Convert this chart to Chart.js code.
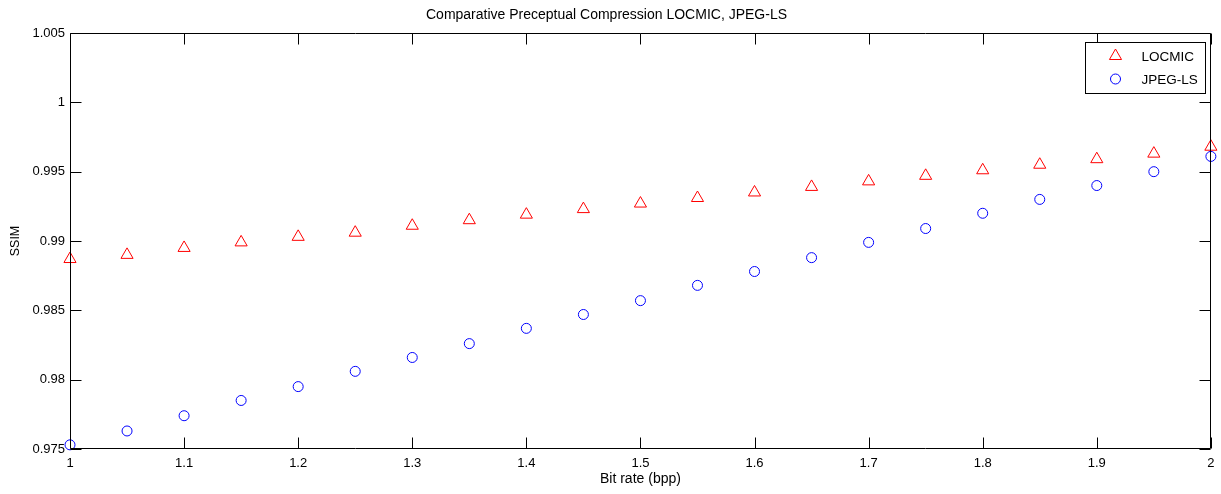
<!DOCTYPE html>
<html>
<head>
<meta charset="utf-8">
<script src="https://cdn.jsdelivr.net/npm/chart.js@4/dist/chart.umd.min.js"></script>
<style>
html,body{margin:0;padding:0;background:#fff;}
#wrap{width:1221px;height:494px;position:relative;}
</style>
</head>
<body>
<div id="wrap"><canvas id="c" width="1221" height="494"></canvas></div>
<script>
const chartTitle = "Comparative Preceptual Compression LOCMIC, JPEG-LS";
const xAxisTitle = "Bit rate (bpp)";
const yAxisTitle = "SSIM";
const bitRates = [1.00,1.05,1.10,1.15,1.20,1.25,1.30,1.35,1.40,1.45,1.50,1.55,1.60,1.65,1.70,1.75,1.80,1.85,1.90,1.95,2.00];
const locmic = [0.9887,0.9890,0.9895,0.9899,0.9903,0.9906,0.9911,0.9915,0.9919,0.9923,0.9927,0.9931,0.9935,0.9939,0.9943,0.9947,0.9951,0.9955,0.9959,0.9963,0.9968];
const jpegLs = [0.9753,0.9763,0.9774,0.9785,0.9795,0.9806,0.9816,0.9826,0.9837,0.9847,0.9857,0.9868,0.9878,0.9888,0.9899,0.9909,0.9920,0.9930,0.9940,0.9950,0.9961];
const xTicks = [1,1.1,1.2,1.3,1.4,1.5,1.6,1.7,1.8,1.9,2];
const yTicks = [0.975,0.98,0.985,0.99,0.995,1,1.005];
const seriesNames = ["LOCMIC","JPEG-LS"];

const FONT = "'Liberation Sans', Arial, sans-serif";

function pts(xs, ys){ return xs.map((x,i)=>({x:x,y:ys[i]})); }

const frameAndTicks = {
  id:'frameAndTicks',
  afterDatasetsDraw(chart){
    const ctx = chart.ctx, a = chart.chartArea;
    const xs = chart.scales.x, ys = chart.scales.y;
    const L = Math.round(a.left)+0.5, R = Math.round(a.right)-0.5, T = Math.round(a.top)+0.5, B = Math.round(a.bottom)-0.5;
    const tl = 11;
    ctx.save();
    ctx.strokeStyle = '#000';
    ctx.lineWidth = 1;
    ctx.beginPath();
    ctx.rect(L, T, R-L, B-T);
    ctx.stroke();
    ctx.beginPath();
    xTicks.forEach(v=>{
      const px = Math.round(xs.getPixelForValue(v)) + 0.5;
      ctx.moveTo(px, B); ctx.lineTo(px, B-tl);
      ctx.moveTo(px, T); ctx.lineTo(px, T+tl);
    });
    yTicks.forEach(v=>{
      const py = Math.round(ys.getPixelForValue(v)) + 0.5;
      ctx.moveTo(L, py); ctx.lineTo(L+tl, py);
      ctx.moveTo(R, py); ctx.lineTo(R-tl, py);
    });
    ctx.stroke();
    ctx.restore();
  }
};

const boxLegend = {
  id:'boxLegend',
  afterDraw(chart){
    const ctx = chart.ctx, a = chart.chartArea;
    const bx = Math.round(a.right) - 126 + 0.5, by = Math.round(a.top) + 9 + 0.5, bw = 120, bh = 51;
    ctx.save();
    ctx.fillStyle = '#fff';
    ctx.fillRect(bx, by, bw, bh);
    ctx.strokeStyle = '#000';
    ctx.lineWidth = 1;
    ctx.strokeRect(bx, by, bw, bh);
    ctx.font = "13.5px " + FONT;
    ctx.textBaseline = 'middle';
    ctx.textAlign = 'left';
    chart.data.datasets.forEach((ds, i)=>{
      const cy = by + 13.5 + i*23;
      const cx = bx + 30;
      ctx.strokeStyle = ds.borderColor;
      ctx.lineWidth = 1;
      const opts = {pointStyle: ds.pointStyle, radius: ds.pointRadius, borderWidth: 1, rotation: 0};
      ctx.fillStyle = 'rgba(0,0,0,0)';
      if (Chart.helpers && Chart.helpers.drawPoint) {
        Chart.helpers.drawPoint(ctx, opts, cx, cy);
      }
      ctx.fillStyle = '#000';
      ctx.fillText(ds.label, bx + 56, cy + 1.5);
    });
    ctx.restore();
  }
};

new Chart(document.getElementById('c'), {
  type:'scatter',
  data:{
    datasets:[
      {label:seriesNames[0], data:pts(bitRates, locmic), pointStyle:'triangle', pointRadius:7, pointHoverRadius:7,
       borderColor:'#ff0000', backgroundColor:'rgba(0,0,0,0)', pointBorderWidth:1, borderWidth:1, showLine:false, clip:false},
      {label:seriesNames[1], data:pts(bitRates, jpegLs), pointStyle:'circle', pointRadius:5, pointHoverRadius:5,
       borderColor:'#0000ff', backgroundColor:'rgba(0,0,0,0)', pointBorderWidth:1, borderWidth:1, showLine:false, clip:false}
    ]
  },
  options:{
    responsive:false,
    animation:false,
    devicePixelRatio:1,
    layout:{padding:{left:0, right:8, top:0, bottom:0}},
    plugins:{
      legend:{display:false},
      tooltip:{enabled:false},
      title:{display:true, text:chartTitle, color:'#000', font:{family:FONT, size:14, weight:'normal'}, padding:{top:6.6, bottom:9.6}}
    },
    scales:{
      x:{
        type:'linear', min:1, max:2,
        afterBuildTicks(s){ s.ticks = xTicks.map(v=>({value:v})); },
        afterFit(s){ s.height = 45; },
        grid:{display:false, drawTicks:false},
        border:{display:false},
        ticks:{color:'#000', padding:6.5, maxRotation:0, autoSkip:false, font:{family:FONT, size:13},
               callback:(v)=>String(parseFloat(Number(v).toFixed(3)))},
        title:{display:true, text:xAxisTitle, color:'#000', font:{family:FONT, size:14}, padding:{top:0,bottom:6}}
      },
      y:{
        type:'linear', min:0.975, max:1.005,
        afterBuildTicks(s){ s.ticks = yTicks.map(v=>({value:v})); },
        afterFit(s){ s.width = 70; },
        grid:{display:false, drawTicks:false},
        border:{display:false},
        ticks:{color:'#000', padding:5, autoSkip:false, font:{family:FONT, size:13},
               callback:(v)=>String(parseFloat(Number(v).toFixed(3)))},
        title:{display:true, text:yAxisTitle, color:'#000', font:{family:FONT, size:12.5}, padding:{top:8.5,bottom:0}}
      }
    }
  },
  plugins:[frameAndTicks, boxLegend]
});
</script>
</body>
</html>
